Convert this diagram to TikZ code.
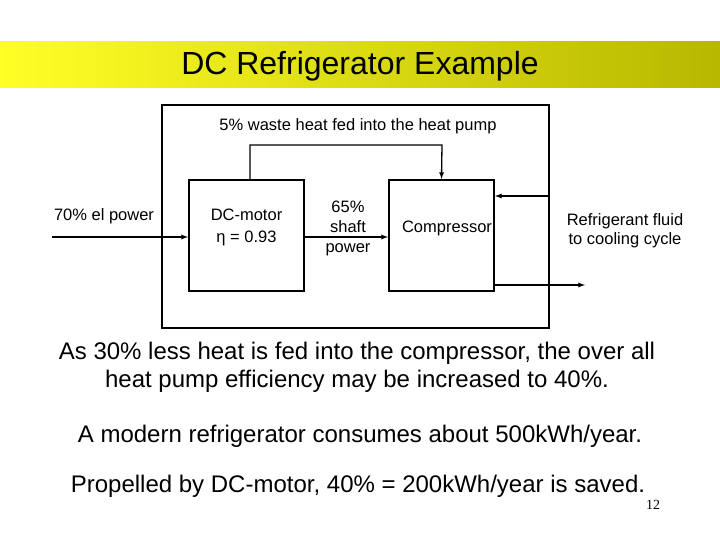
\documentclass[tikz,border=0pt]{standalone}
\usepackage{fontspec}
\setmainfont{Liberation Sans}
\newfontfamily\serifnum{Liberation Serif}
\begin{document}
\begin{tikzpicture}[x=1pt,y=-1pt,
  blk/.style={draw,line width=2pt,inner sep=0pt},
  arr/.style={line width=1.3pt,-latex},
  lab/.style={font=\fontsize{16.5}{19}\selectfont,align=center},
  body/.style={font=\fontsize{24}{28}\selectfont,align=center}]
\useasboundingbox (0,0) rectangle (720,540);
\fill[white] (0,0) rectangle (720,540);
\shade[left color=yellow!85!white, right color=yellow!72!black] (0,42) rectangle (720,88);
\node[font=\fontsize{32}{36}\selectfont] (title) at (360,66) {DC Refrigerator Example};
\node[blk,minimum width=387,minimum height=223] (outer) at (355.5,216.5) {};
\node[blk,minimum width=115,minimum height=111] (motor) at (246.5,235.5) {};
\node[lab,font=\fontsize{16.5}{22}\selectfont] (motortxt) at (246.5,227) {DC-motor\\η = 0.93};
\node[blk,minimum width=105,minimum height=111] (comp) at (441.5,235.5) {};
\node[lab] (comptxt) at (447,228) {Compressor};
\node[lab] (waste) at (358,126) {5\% waste heat fed into the heat pump};
\node[lab] (el) at (104,216) {70\% el power};
\node[lab,font=\fontsize{16.5}{20}\selectfont] (shaft) at (348,228) {65\%\\shaft\\power};
\node[lab] (fluid) at (625,231) {Refrigerant fluid\\to cooling cycle};
\coordinate (in) at (52,237);
\coordinate (rin) at (548,196);
\coordinate (rout) at (585,285);
\draw[arr] (in) -- (in -| motor.west);
\draw[arr] (motor.east |- in) -- (comp.west |- in);
\draw[arr] (250,180) -- (250,145) -- (442,145) -- (comp.north);
\draw[arr] (rin) -- (rin -| comp.east);
\draw[arr] (comp.east |- rout) -- (rout);
\node[body] (p1) at (357,367) {As 30\% less heat is fed into the compressor, the over all\\heat pump efficiency may be increased to 40\%.};
\node[body] (p2) at (360,436) {A modern refrigerator consumes about 500kWh/year.};
\node[body] (p3) at (358,486) {Propelled by DC-motor, 40\% = 200kWh/year is saved.};
\node[font=\serifnum\fontsize{14}{16}\selectfont] (pg) at (653,505) {12};
\end{tikzpicture}
\end{document}
